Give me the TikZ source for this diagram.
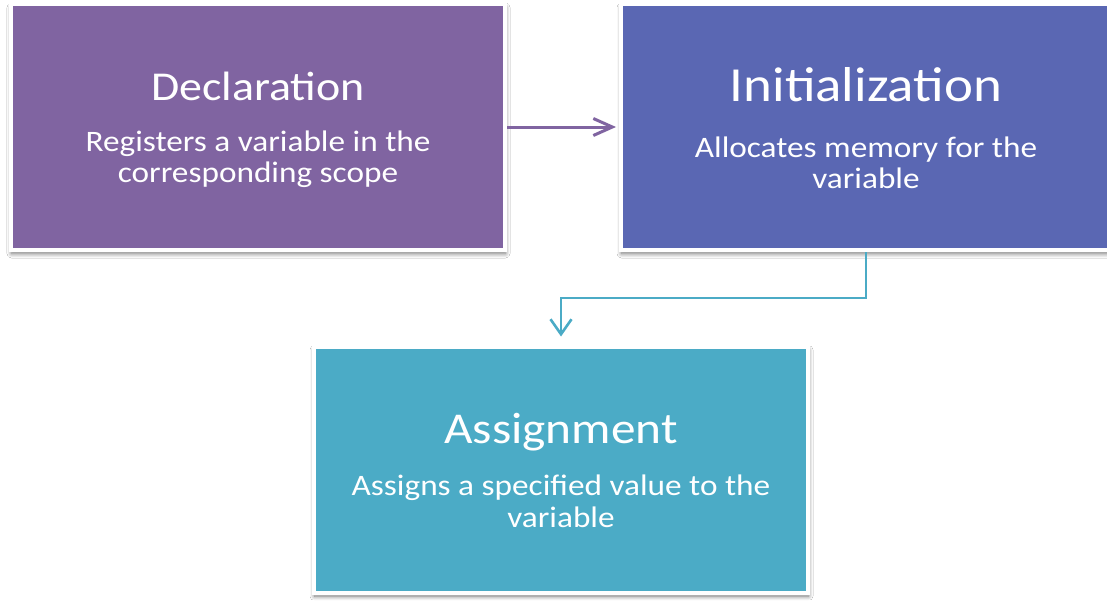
\documentclass[tikz,border=0pt]{standalone}
\usepackage{fontspec}
\setmainfont{Carlito}[FakeStretch=1.12]
\usetikzlibrary{arrows.meta,shadows.blur}
\definecolor{cpurple}{HTML}{8064A1}
\definecolor{cblue}{HTML}{5A67B3}
\definecolor{cteal}{HTML}{4BABC6}
\tikzset{
  card/.style={draw=white, line width=4pt, inner sep=0pt, outer sep=2pt,
    minimum width=#1+4pt, minimum height=246pt,
    blur shadow={shadow xshift=0.5pt, shadow yshift=-3.5pt, shadow blur radius=4.5pt,
      shadow blur steps=12, shadow opacity=55}},
  ttl/.style={anchor=base, text=white, inner sep=0pt},
  bdy/.style={anchor=base, text=white, inner sep=0pt, font=\fontsize{29.7}{30}\selectfont},
}
\begin{document}
\begin{tikzpicture}[x=1pt,y=-1pt]
\useasboundingbox (0,0) rectangle (1107,600);
\fill[white] (0,0) rectangle (1107,600);
% boxes
\node[card=490pt, fill=cpurple] (decl) at (258,127) {};
\node[card=486pt, fill=cblue] (init) at (866,127) {};
\node[card=490pt, fill=cteal] (asg) at (561,469.5) {};
% texts
\node[ttl, font=\fontsize{41}{41}\selectfont] (declt) at (258,100) {Declaration};
\node[bdy] (declb1) at (258,151) {Registers a variable in the};
\node[bdy] (declb2) at (258,182) {corresponding scope};
\node[ttl, font=\fontsize{49}{49}\selectfont] (initt) at (866,101) {Initialization};
\node[bdy] (initb1) at (866,157) {Allocates memory for the};
\node[bdy] (initb2) at (866,188) {variable};
\node[ttl, font=\fontsize{44}{44}\selectfont] (asgt) at (561,443) {Assignment};
\node[bdy] (asgb1) at (561,495) {Assigns a specified value to the};
\node[bdy] (asgb2) at (561,527) {variable};
% connectors
\coordinate (mid) at (0,298);
\draw[cpurple, line width=3pt, shorten >=3pt,
  -{Straight Barb[length=19pt, width=17pt, line width=3pt]}] (decl.east) -- (init.west);
\draw[cteal, line width=2.6pt, shorten >=8pt,
  -{Straight Barb[length=15pt, width=21pt, line width=2.6pt]}]
  (init.south) -- (init.south |- mid) -| (asg.north);
\end{tikzpicture}
\end{document}
